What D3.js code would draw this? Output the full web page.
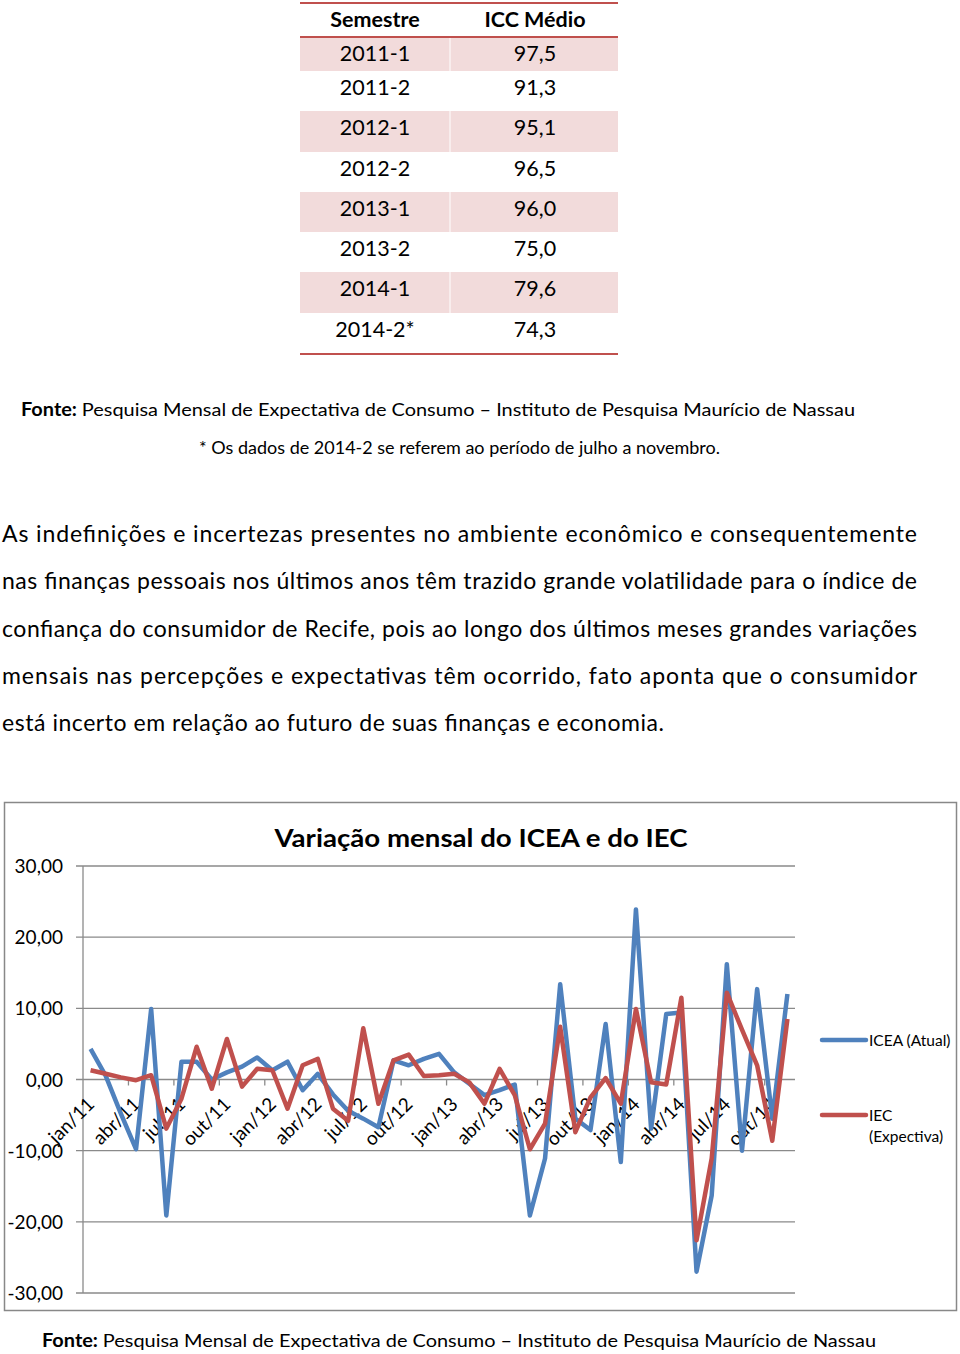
<!DOCTYPE html>
<html><head><meta charset="utf-8">
<script src="https://cdn.jsdelivr.net/npm/d3@7"></script>
<style>
html,body{margin:0;padding:0;background:#fff;}
svg text{font-family:Lato,"Open Sans",sans-serif;fill:#000;}
</style></head>
<body>
<svg id="page" width="960" height="1354"></svg>
<script>
// ---- table data ----
const semestres = ["2011-1","2011-2","2012-1","2012-2","2013-1","2013-2","2014-1","2014-2*"];
const iccMedio = ["97,5","91,3","95,1","96,5","96,0","75,0","79,6","74,3"];

// ---- chart data ----
const months = ["jan/11","fev/11","mar/11","abr/11","mai/11","jun/11","jul/11","ago/11","set/11","out/11","nov/11","dez/11",
"jan/12","fev/12","mar/12","abr/12","mai/12","jun/12","jul/12","ago/12","set/12","out/12","nov/12","dez/12",
"jan/13","fev/13","mar/13","abr/13","mai/13","jun/13","jul/13","ago/13","set/13","out/13","nov/13","dez/13",
"jan/14","fev/14","mar/14","abr/14","mai/14","jun/14","jul/14","ago/14","set/14","out/14","nov/14"];
const icea = [4.3,0.5,-4.8,-9.8,9.9,-19.1,2.5,2.5,0.0,1.0,1.8,3.1,
1.3,2.5,-1.5,0.8,-2.1,-4.4,-5.5,-6.7,2.7,2.0,2.9,3.6,
1.0,-0.6,-2.2,-1.5,-0.7,-19.1,-11.1,13.4,-5.5,-7.1,7.8,-11.6,
23.9,-6.9,9.2,9.4,-27.0,-16.3,16.2,-10.0,12.7,-5.5,12.0];
const iec = [1.3,0.8,0.3,-0.1,0.6,-6.9,-2.7,4.6,-1.3,5.7,-1.0,1.5,
1.3,-4.1,2.0,2.9,-4.1,-5.8,7.2,-3.4,2.7,3.5,0.5,0.6,
0.8,-0.4,-3.4,1.5,-2.2,-9.8,-6.2,7.4,-7.4,-2.5,0.2,-3.4,
9.9,-0.4,-0.7,11.5,-22.6,-11.1,12.2,7.0,2.0,-8.6,8.5];
const yTicks = [30,20,10,0,-10,-20,-30];
const seriesNames = ["ICEA (Atual)","IEC (Expectiva)"];

const paragraph = [
"As indefinições e incertezas presentes no ambiente econômico e consequentemente",
"nas finanças pessoais nos últimos anos têm trazido grande volatilidade para o índice de",
"confiança do consumidor de Recife, pois ao longo dos últimos meses grandes variações",
"mensais nas percepções e expectativas têm ocorrido, fato aponta que o consumidor",
"está incerto em relação ao futuro de suas finanças e economia."];

const svg = d3.select("#page");
const RED = "#C0504D", BLUE = "#4F81BD";

// ---- Table ----
const tX0 = 300, tX1 = 618, tMid = 450;
const rowTops = [37,71,111,152,192,232,272,313,353];
const tbl = svg.append("g");
semestres.forEach((s,i)=>{
  if(i%2===0) tbl.append("rect").attr("x",tX0).attr("y",rowTops[i]).attr("width",tX1-tX0)
     .attr("height",rowTops[i+1]-rowTops[i]).attr("fill","#F2DBDB");
});
tbl.append("line").attr("x1",tMid).attr("x2",tMid).attr("y1",37).attr("y2",353).attr("stroke","#fff").attr("stroke-width",1);
[3,37,354].forEach(y=>tbl.append("line").attr("x1",tX0).attr("x2",tX1).attr("y1",y).attr("y2",y)
   .attr("stroke",RED).attr("stroke-width",2));
tbl.append("text").attr("x",375).attr("y",27).attr("text-anchor","middle").attr("font-size",21.5).attr("font-weight","bold").text("Semestre");
tbl.append("text").attr("x",535).attr("y",27).attr("text-anchor","middle").attr("font-size",21.5).attr("font-weight","bold").text("ICC Médio");
semestres.forEach((s,i)=>{
  const by = rowTops[i] + 24;
  tbl.append("text").attr("x",375).attr("y",by).attr("text-anchor","middle").attr("font-size",21.5).text(s);
  tbl.append("text").attr("x",535).attr("y",by).attr("text-anchor","middle").attr("font-size",21.5).text(iccMedio[i]);
});

// ---- Source notes ----
function fonte(x, y, len){
  const t = svg.append("text").attr("x",x).attr("y",y).attr("font-size",18).attr("textLength",len).attr("lengthAdjust","spacingAndGlyphs");
  t.append("tspan").attr("font-weight","bold").text("Fonte: ");
  t.append("tspan").text("Pesquisa Mensal de Expectativa de Consumo – Instituto de Pesquisa Maurício de Nassau");
}
fonte(21, 416, 834);
svg.append("text").attr("x",199).attr("y",454).attr("font-size",16.5).attr("textLength",521).attr("lengthAdjust","spacingAndGlyphs")
  .text("* Os dados de 2014-2 se referem ao período de julho a novembro.");

// ---- Paragraph ----
paragraph.forEach((line,i)=>{
  const t = svg.append("text").attr("x",2).attr("y",542+i*47.3).attr("font-size",23).text(line);
  t.attr("textLength", i<4 ? 915 : 662).attr("lengthAdjust","spacing");
});

// ---- Chart ----
svg.append("rect").attr("x",4.5).attr("y",802.5).attr("width",952).attr("height",508).attr("fill","#fff")
  .attr("stroke","#888").attr("stroke-width",1.5);
svg.append("text").attr("x",481).attr("y",847).attr("text-anchor","middle").attr("font-size",25).attr("font-weight","bold")
  .attr("textLength",413).attr("lengthAdjust","spacingAndGlyphs").text("Variação mensal do ICEA e do IEC");

const left = 83, right = 795;
const x = d3.scalePoint().domain(months).range([left,right]).padding(0.5);
const y = d3.scaleLinear().domain([-30,30]).range([1293,866]);
const step = x.step();

const g = svg.append("g");
g.selectAll("line.grid").data(yTicks).join("line").attr("class","grid")
  .attr("x1",left-7).attr("x2",right).attr("y1",d=>y(d)).attr("y2",d=>y(d))
  .attr("stroke","#8a8a8a").attr("stroke-width",1.3);
g.append("line").attr("x1",left).attr("x2",left).attr("y1",y(30)).attr("y2",y(-30)).attr("stroke","#8a8a8a").attr("stroke-width",1.3);
g.selectAll("text.ytick").data(yTicks).join("text").attr("class","ytick")
  .attr("x",63).attr("y",d=>y(d)+7).attr("text-anchor","end").attr("font-size",19)
  .text(d=>d3.format(".2f")(d).replace(".",",").replace("−","-"));

// x ticks at category boundaries every 3 months
const tickIdx = d3.range(1,16);
g.selectAll("line.xtick").data(tickIdx).join("line").attr("class","xtick")
  .attr("x1",k=>left+k*3*step).attr("x2",k=>left+k*3*step).attr("y1",y(0)).attr("y2",y(0)+6)
  .attr("stroke","#8a8a8a").attr("stroke-width",1.3);
const labelMonths = months.filter((m,i)=>i%3===0);
g.selectAll("text.xlab").data(labelMonths).join("text").attr("class","xlab")
  .attr("text-anchor","end").attr("font-size",19)
  .attr("transform",m=>`translate(${x(m)+5},${y(0)+26}) rotate(-45)`)
  .text(m=>m);

const line = d3.line().x((d,i)=>x(months[i])).y(d=>y(d));
g.append("path").datum(icea).attr("d",line).attr("fill","none").attr("stroke",BLUE).attr("stroke-width",4.5).attr("stroke-linejoin","round");
g.append("path").datum(iec).attr("d",line).attr("fill","none").attr("stroke",RED).attr("stroke-width",4.5).attr("stroke-linejoin","round");

// legend
const leg = svg.append("g");
leg.append("line").attr("x1",822).attr("x2",866).attr("y1",1040).attr("y2",1040).attr("stroke",BLUE).attr("stroke-width",4.5).attr("stroke-linecap","round");
leg.append("text").attr("x",869).attr("y",1046).attr("font-size",15.5).text(seriesNames[0]);
leg.append("line").attr("x1",822).attr("x2",866).attr("y1",1115).attr("y2",1115).attr("stroke",RED).attr("stroke-width",4.5).attr("stroke-linecap","round");
leg.append("text").attr("x",869).attr("y",1121).attr("font-size",15.5).text(seriesNames[1].split(" ")[0]);
leg.append("text").attr("x",869).attr("y",1142).attr("font-size",15.5).text(seriesNames[1].split(" ")[1]);

fonte(42, 1347, 834);
</script>
</body></html>
